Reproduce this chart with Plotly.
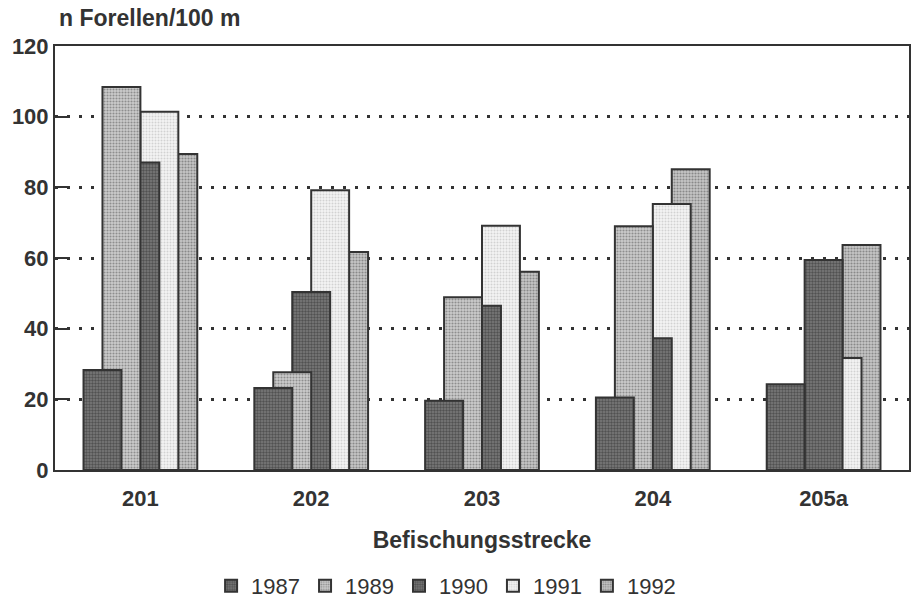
import plotly.graph_objects as go

# Trout counts per 100 m for each sampling stretch and year
stretches = ["201", "202", "203", "204", "205a"]
years = ["1987", "1989", "1990", "1991", "1992"]
n_1987 = [28.3, 23.2, 19.6, 20.5, 24.3]
n_1989 = [108.4, 27.7, 48.9, 69.0, None]
n_1990 = [87.0, 50.4, 46.5, 37.3, 59.4]
n_1991 = [101.4, 79.2, 69.1, 75.3, 31.7]
n_1992 = [89.4, 61.7, 56.1, 85.1, 63.7]
y_ticks = [0, 20, 40, 60, 80, 100, 120]

series = [n_1987, n_1989, n_1990, n_1991, n_1992]

# stipple look per year: background, dot colour, dot size, solidity
styles = {
    "1987": ("#7c7c7c", "#262626", 3, 0.5),
    "1989": ("#cccccc", "#505050", 3, 0.4),
    "1990": ("#7c7c7c", "#262626", 3, 0.5),
    "1991": ("#f4f4f4", "#b0b0b0", 3, 0.35),
    "1992": ("#c6c6c6", "#4c4c4c", 3, 0.4),
}

INK = "#333333"
FONT = "Liberation Sans"
bar_w = 0.222
step = 0.111
start = -0.333

fig = go.Figure()
# later years are drawn first so the earlier years sit on top
for i in reversed(range(len(years))):
    yr = years[i]
    bg, fg, sz, sol = styles[yr]
    fig.add_trace(go.Bar(
        x=stretches,
        y=series[i],
        name=yr,
        width=bar_w,
        offset=start + i * step,
        marker=dict(
            color=bg,
            line=dict(color=INK, width=2),
            pattern=dict(shape=".", fgcolor=fg, bgcolor=bg, size=sz,
                         solidity=sol, fillmode="overlay"),
        ),
    ))

fig.update_layout(
    width=916, height=604,
    margin=dict(l=55, r=5, t=46, b=134),
    paper_bgcolor="white", plot_bgcolor="white",
    barmode="overlay",
    font=dict(family=FONT, color=INK),
    showlegend=True,
    legend=dict(
        orientation="h", traceorder="reversed",
        xref="container", yref="container",
        x=0.487, xanchor="center", y=0.03, yanchor="middle",
        font=dict(family=FONT, size=22, color=INK),
        itemwidth=30,
    ),
    annotations=[dict(
        text="<b>n Forellen/100 m</b>", xref="paper", yref="paper",
        x=0.002, y=1.066, xanchor="left", yanchor="middle",
        showarrow=False, font=dict(family=FONT, size=23, color=INK),
    )],
)

fig.update_xaxes(
    type="category",
    showline=True, linecolor=INK, linewidth=2, mirror=True,
    ticks="", showgrid=False, ticklabelstandoff=8,
    tickfont=dict(family=FONT, size=22, color=INK),
    tickprefix="<b>", ticksuffix="</b>",
    title=dict(text="<b>Befischungsstrecke</b>", standoff=21,
               font=dict(family=FONT, size=23, color=INK)),
)

fig.update_yaxes(
    range=[0, 120], tickvals=y_ticks,
    ticktext=[f"<b>{v}</b>" for v in y_ticks],
    showline=True, linecolor=INK, linewidth=2, mirror=True,
    ticks="inside", ticklen=13, tickwidth=2, tickcolor=INK,
    tickfont=dict(family=FONT, size=22, color=INK),
    showgrid=True, gridcolor=INK, gridwidth=2.5, griddash="3px,9px",
    zeroline=False,
)

fig.write_html("out.html")
